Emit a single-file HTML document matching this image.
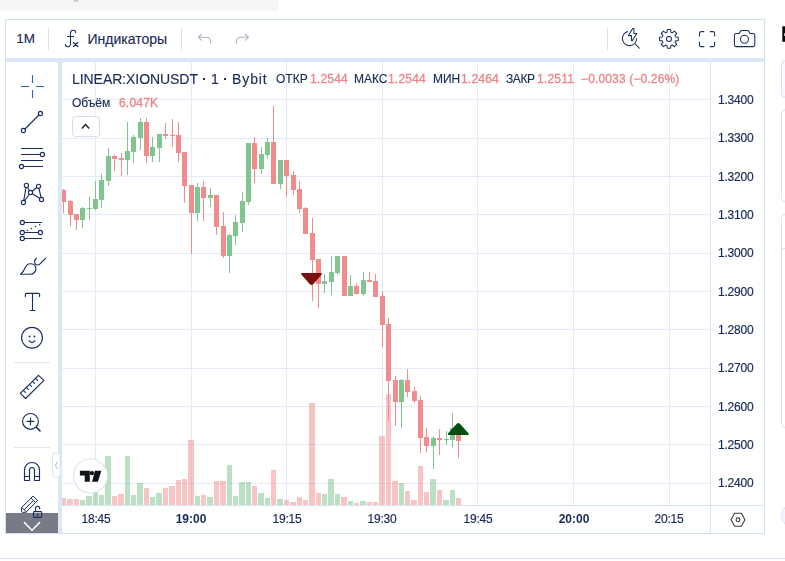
<!DOCTYPE html>
<html><head><meta charset="utf-8">
<style>
html,body{margin:0;padding:0;}
body{width:785px;height:561px;overflow:hidden;background:#fff;position:relative;font-family:"Liberation Sans",sans-serif;color:#1b2b57;}
.abs{position:absolute;}
.t{position:absolute;white-space:nowrap;line-height:1;}
#frame{left:5px;top:19px;width:760px;height:515px;background:#dbe6f8;box-shadow:inset 0 0 0 1px #d2e0f8;}
#tb{left:6px;top:20px;width:758px;height:38px;background:#fff;}
#lp{left:6px;top:62px;width:52px;height:471px;background:#fff;border-top-right-radius:3px;}
#ch{left:62px;top:62px;width:702px;height:471px;background:#fff;border-top-left-radius:3px;}
.sep{position:absolute;width:1px;background:#dfe2ec;top:28px;height:22px;}
.red{color:#f08285;}
.lg{-webkit-text-stroke-width:0.15px;}
.lg.red{-webkit-text-stroke-width:0.3px;}
.ti{-webkit-text-stroke-width:0.15px;}
.pl,.tl,.ti,.lg{will-change:transform;}
.pl,.tl{-webkit-text-stroke:0.2px #1b2b57;}
</style></head><body>
<div class="abs" style="left:0;top:0;width:278px;height:10px;background:#f5f5f5"></div><div class="abs" style="left:0;top:10px;width:278px;height:1px;background:#fafafa"></div>
<div class="abs" style="left:73px;top:0;width:6px;height:2px;background:#c9d0de;border-radius:0 0 2px 2px"></div>
<div class="abs" id="frame"></div>
<div class="abs" id="tb"></div>
<div class="abs" id="lp"></div>
<div class="abs" id="ch"></div>

<!-- chart svg -->
<svg class="abs" style="left:0;top:0" width="785" height="561" viewBox="0 0 785 561" shape-rendering="crispEdges">
<rect x="62" y="99" width="648" height="1" fill="#e3ebfa"/>
<rect x="62" y="138" width="648" height="1" fill="#e3ebfa"/>
<rect x="62" y="176" width="648" height="1" fill="#e3ebfa"/>
<rect x="62" y="214" width="648" height="1" fill="#e3ebfa"/>
<rect x="62" y="253" width="648" height="1" fill="#e3ebfa"/>
<rect x="62" y="291" width="648" height="1" fill="#e3ebfa"/>
<rect x="62" y="329" width="648" height="1" fill="#e3ebfa"/>
<rect x="62" y="368" width="648" height="1" fill="#e3ebfa"/>
<rect x="62" y="406" width="648" height="1" fill="#e3ebfa"/>
<rect x="62" y="444" width="648" height="1" fill="#e3ebfa"/>
<rect x="62" y="483" width="648" height="1" fill="#e3ebfa"/>
<rect x="95" y="62" width="1" height="443" fill="#e3ebfa"/>
<rect x="191" y="62" width="1" height="443" fill="#e3ebfa"/>
<rect x="286" y="62" width="1" height="443" fill="#e3ebfa"/>
<rect x="382" y="62" width="1" height="443" fill="#e3ebfa"/>
<rect x="477" y="62" width="1" height="443" fill="#e3ebfa"/>
<rect x="573" y="62" width="1" height="443" fill="#e3ebfa"/>
<rect x="669" y="62" width="1" height="443" fill="#e3ebfa"/>
<rect x="62" y="498" width="4" height="7" fill="#f28c8c" fill-opacity="0.5"/>
<rect x="67" y="499" width="6" height="6" fill="#f28c8c" fill-opacity="0.5"/>
<rect x="74" y="499" width="5" height="6" fill="#f28c8c" fill-opacity="0.5"/>
<rect x="80" y="500" width="5" height="5" fill="#7ac28a" fill-opacity="0.5"/>
<rect x="86" y="496" width="6" height="9" fill="#7ac28a" fill-opacity="0.5"/>
<rect x="93" y="492" width="5" height="13" fill="#7ac28a" fill-opacity="0.5"/>
<rect x="99" y="495" width="5" height="10" fill="#7ac28a" fill-opacity="0.5"/>
<rect x="105" y="456" width="6" height="49" fill="#7ac28a" fill-opacity="0.5"/>
<rect x="112" y="496" width="5" height="9" fill="#f28c8c" fill-opacity="0.5"/>
<rect x="118" y="494" width="6" height="11" fill="#f28c8c" fill-opacity="0.5"/>
<rect x="125" y="456" width="5" height="49" fill="#7ac28a" fill-opacity="0.5"/>
<rect x="131" y="495" width="5" height="10" fill="#7ac28a" fill-opacity="0.5"/>
<rect x="137" y="483" width="6" height="22" fill="#7ac28a" fill-opacity="0.5"/>
<rect x="144" y="488" width="5" height="17" fill="#f28c8c" fill-opacity="0.5"/>
<rect x="150" y="497" width="5" height="8" fill="#7ac28a" fill-opacity="0.5"/>
<rect x="156" y="493" width="6" height="12" fill="#7ac28a" fill-opacity="0.5"/>
<rect x="163" y="488" width="5" height="17" fill="#f28c8c" fill-opacity="0.5"/>
<rect x="169" y="486" width="6" height="19" fill="#f28c8c" fill-opacity="0.5"/>
<rect x="176" y="480" width="5" height="25" fill="#f28c8c" fill-opacity="0.5"/>
<rect x="182" y="479" width="5" height="26" fill="#f28c8c" fill-opacity="0.5"/>
<rect x="188" y="440" width="6" height="65" fill="#f28c8c" fill-opacity="0.5"/>
<rect x="195" y="496" width="5" height="9" fill="#7ac28a" fill-opacity="0.5"/>
<rect x="201" y="495" width="5" height="10" fill="#f28c8c" fill-opacity="0.5"/>
<rect x="207" y="497" width="6" height="8" fill="#7ac28a" fill-opacity="0.5"/>
<rect x="214" y="481" width="5" height="24" fill="#f28c8c" fill-opacity="0.5"/>
<rect x="220" y="481" width="6" height="24" fill="#f28c8c" fill-opacity="0.5"/>
<rect x="227" y="465" width="5" height="40" fill="#7ac28a" fill-opacity="0.5"/>
<rect x="233" y="496" width="5" height="9" fill="#7ac28a" fill-opacity="0.5"/>
<rect x="239" y="482" width="6" height="23" fill="#7ac28a" fill-opacity="0.5"/>
<rect x="246" y="482" width="5" height="23" fill="#7ac28a" fill-opacity="0.5"/>
<rect x="252" y="486" width="5" height="19" fill="#f28c8c" fill-opacity="0.5"/>
<rect x="258" y="493" width="6" height="12" fill="#7ac28a" fill-opacity="0.5"/>
<rect x="265" y="498" width="5" height="7" fill="#7ac28a" fill-opacity="0.5"/>
<rect x="271" y="470" width="5" height="35" fill="#f28c8c" fill-opacity="0.5"/>
<rect x="277" y="499" width="6" height="6" fill="#7ac28a" fill-opacity="0.5"/>
<rect x="284" y="500" width="5" height="5" fill="#f28c8c" fill-opacity="0.5"/>
<rect x="290" y="502" width="6" height="3" fill="#f28c8c" fill-opacity="0.5"/>
<rect x="297" y="497" width="5" height="8" fill="#f28c8c" fill-opacity="0.5"/>
<rect x="303" y="500" width="5" height="5" fill="#f28c8c" fill-opacity="0.5"/>
<rect x="309" y="403" width="6" height="102" fill="#f28c8c" fill-opacity="0.5"/>
<rect x="316" y="493" width="5" height="12" fill="#f28c8c" fill-opacity="0.5"/>
<rect x="322" y="494" width="5" height="11" fill="#7ac28a" fill-opacity="0.5"/>
<rect x="328" y="479" width="6" height="26" fill="#7ac28a" fill-opacity="0.5"/>
<rect x="335" y="494" width="5" height="11" fill="#7ac28a" fill-opacity="0.5"/>
<rect x="341" y="497" width="6" height="8" fill="#f28c8c" fill-opacity="0.5"/>
<rect x="348" y="501" width="5" height="4" fill="#7ac28a" fill-opacity="0.5"/>
<rect x="354" y="503" width="5" height="2" fill="#f28c8c" fill-opacity="0.5"/>
<rect x="360" y="501" width="6" height="4" fill="#7ac28a" fill-opacity="0.5"/>
<rect x="367" y="502" width="5" height="3" fill="#f28c8c" fill-opacity="0.5"/>
<rect x="373" y="502" width="5" height="3" fill="#f28c8c" fill-opacity="0.5"/>
<rect x="379" y="436" width="6" height="69" fill="#f28c8c" fill-opacity="0.5"/>
<rect x="386" y="394" width="5" height="111" fill="#f28c8c" fill-opacity="0.5"/>
<rect x="392" y="481" width="6" height="24" fill="#f28c8c" fill-opacity="0.5"/>
<rect x="399" y="483" width="5" height="22" fill="#7ac28a" fill-opacity="0.5"/>
<rect x="405" y="491" width="5" height="14" fill="#f28c8c" fill-opacity="0.5"/>
<rect x="411" y="500" width="6" height="5" fill="#f28c8c" fill-opacity="0.5"/>
<rect x="418" y="466" width="5" height="39" fill="#f28c8c" fill-opacity="0.5"/>
<rect x="424" y="492" width="5" height="13" fill="#f28c8c" fill-opacity="0.5"/>
<rect x="430" y="479" width="6" height="26" fill="#7ac28a" fill-opacity="0.5"/>
<rect x="437" y="490" width="5" height="15" fill="#f28c8c" fill-opacity="0.5"/>
<rect x="443" y="500" width="6" height="5" fill="#7ac28a" fill-opacity="0.5"/>
<rect x="450" y="490" width="5" height="15" fill="#7ac28a" fill-opacity="0.5"/>
<rect x="456" y="498" width="5" height="7" fill="#f28c8c" fill-opacity="0.5"/>
<rect x="63" y="189.0" width="1" height="24.0" fill="#f28c8c"/>
<rect x="62" y="190.0" width="4" height="12.0" fill="#f28c8c"/>
<rect x="70" y="200.0" width="1" height="26.0" fill="#f28c8c"/>
<rect x="68" y="201.0" width="5" height="14.0" fill="#f28c8c"/>
<rect x="76" y="214.0" width="1" height="16.0" fill="#f28c8c"/>
<rect x="74" y="214.0" width="5" height="6.0" fill="#f28c8c"/>
<rect x="82" y="207.0" width="1" height="21.0" fill="#80c590"/>
<rect x="80" y="208.0" width="5" height="12.0" fill="#80c590"/>
<rect x="89" y="197.0" width="1" height="23.0" fill="#80c590"/>
<rect x="87" y="208.0" width="5" height="1.0" fill="#80c590"/>
<rect x="95" y="181.0" width="1" height="29.0" fill="#80c590"/>
<rect x="93" y="199.0" width="5" height="10.0" fill="#80c590"/>
<rect x="101" y="174.0" width="1" height="34.0" fill="#80c590"/>
<rect x="99" y="180.0" width="5" height="20.0" fill="#80c590"/>
<rect x="108" y="148.0" width="1" height="38.0" fill="#80c590"/>
<rect x="106" y="156.0" width="5" height="25.0" fill="#80c590"/>
<rect x="114" y="155.0" width="1" height="16.0" fill="#f28c8c"/>
<rect x="112" y="156.0" width="5" height="3.0" fill="#f28c8c"/>
<rect x="121" y="153.0" width="1" height="23.0" fill="#f28c8c"/>
<rect x="119" y="158.0" width="5" height="2.0" fill="#f28c8c"/>
<rect x="127" y="122.0" width="1" height="53.0" fill="#80c590"/>
<rect x="125" y="151.0" width="5" height="9.0" fill="#80c590"/>
<rect x="133" y="135.0" width="1" height="28.0" fill="#80c590"/>
<rect x="131" y="137.0" width="5" height="15.0" fill="#80c590"/>
<rect x="140" y="118.0" width="1" height="32.0" fill="#80c590"/>
<rect x="138" y="122.0" width="5" height="16.0" fill="#80c590"/>
<rect x="146" y="118.0" width="1" height="45.0" fill="#f28c8c"/>
<rect x="144" y="122.0" width="5" height="34.0" fill="#f28c8c"/>
<rect x="152" y="137.0" width="1" height="25.0" fill="#80c590"/>
<rect x="150" y="147.0" width="5" height="9.0" fill="#80c590"/>
<rect x="159" y="134.0" width="1" height="28.0" fill="#80c590"/>
<rect x="157" y="134.0" width="5" height="14.0" fill="#80c590"/>
<rect x="165" y="123.0" width="1" height="16.0" fill="#f28c8c"/>
<rect x="163" y="134.0" width="5" height="2.0" fill="#f28c8c"/>
<rect x="172" y="119.0" width="1" height="28.0" fill="#f28c8c"/>
<rect x="170" y="134.5" width="5" height="1.5" fill="#f28c8c"/>
<rect x="178" y="122.0" width="1" height="40.0" fill="#f28c8c"/>
<rect x="176" y="135.0" width="5" height="17.5" fill="#f28c8c"/>
<rect x="184" y="152.0" width="1" height="51.0" fill="#f28c8c"/>
<rect x="182" y="152.0" width="5" height="34.0" fill="#f28c8c"/>
<rect x="191" y="185.0" width="1" height="69.0" fill="#f28c8c"/>
<rect x="189" y="185.0" width="5" height="28.0" fill="#f28c8c"/>
<rect x="197" y="183.0" width="1" height="38.0" fill="#80c590"/>
<rect x="195" y="187.0" width="5" height="26.0" fill="#80c590"/>
<rect x="203" y="181.0" width="1" height="40.0" fill="#f28c8c"/>
<rect x="201" y="187.0" width="5" height="11.0" fill="#f28c8c"/>
<rect x="210" y="188.0" width="1" height="19.0" fill="#80c590"/>
<rect x="208" y="195.0" width="5" height="3.0" fill="#80c590"/>
<rect x="216" y="195.0" width="1" height="40.0" fill="#f28c8c"/>
<rect x="214" y="195.0" width="5" height="31.5" fill="#f28c8c"/>
<rect x="223" y="212.0" width="1" height="46.0" fill="#f28c8c"/>
<rect x="221" y="226.0" width="5" height="30.0" fill="#f28c8c"/>
<rect x="229" y="234.0" width="1" height="39.0" fill="#80c590"/>
<rect x="227" y="235.0" width="5" height="21.0" fill="#80c590"/>
<rect x="235" y="215.0" width="1" height="30.0" fill="#80c590"/>
<rect x="233" y="222.0" width="5" height="14.0" fill="#80c590"/>
<rect x="242" y="192.0" width="1" height="40.0" fill="#80c590"/>
<rect x="240" y="201.0" width="5" height="21.5" fill="#80c590"/>
<rect x="248" y="143.0" width="1" height="62.0" fill="#80c590"/>
<rect x="246" y="143.0" width="5" height="59.0" fill="#80c590"/>
<rect x="254" y="137.0" width="1" height="46.0" fill="#f28c8c"/>
<rect x="252" y="143.0" width="5" height="26.0" fill="#f28c8c"/>
<rect x="261" y="147.0" width="1" height="27.0" fill="#80c590"/>
<rect x="259" y="154.0" width="5" height="15.0" fill="#80c590"/>
<rect x="267" y="138.0" width="1" height="21.0" fill="#80c590"/>
<rect x="265" y="142.0" width="5" height="13.0" fill="#80c590"/>
<rect x="273" y="106.0" width="1" height="78.0" fill="#f28c8c"/>
<rect x="271" y="142.0" width="5" height="42.0" fill="#f28c8c"/>
<rect x="280" y="160.0" width="1" height="29.0" fill="#80c590"/>
<rect x="278" y="160.0" width="5" height="24.0" fill="#80c590"/>
<rect x="286" y="160.0" width="1" height="37.0" fill="#f28c8c"/>
<rect x="284" y="160.0" width="5" height="16.0" fill="#f28c8c"/>
<rect x="293" y="171.0" width="1" height="24.0" fill="#f28c8c"/>
<rect x="291" y="175.0" width="5" height="15.0" fill="#f28c8c"/>
<rect x="299" y="181.0" width="1" height="32.0" fill="#f28c8c"/>
<rect x="297" y="189.0" width="5" height="20.0" fill="#f28c8c"/>
<rect x="305" y="207.0" width="1" height="27.0" fill="#f28c8c"/>
<rect x="303" y="208.0" width="5" height="26.0" fill="#f28c8c"/>
<rect x="312" y="218.0" width="1" height="83.0" fill="#f28c8c"/>
<rect x="310" y="233.0" width="5" height="27.0" fill="#f28c8c"/>
<rect x="318" y="259.0" width="1" height="49.0" fill="#f28c8c"/>
<rect x="316" y="259.0" width="5" height="24.5" fill="#f28c8c"/>
<rect x="324" y="274.0" width="1" height="19.0" fill="#80c590"/>
<rect x="322" y="281.0" width="5" height="3.0" fill="#80c590"/>
<rect x="331" y="256.0" width="1" height="39.0" fill="#80c590"/>
<rect x="329" y="272.0" width="5" height="10.0" fill="#80c590"/>
<rect x="337" y="256.0" width="1" height="19.0" fill="#80c590"/>
<rect x="335" y="256.0" width="5" height="16.5" fill="#80c590"/>
<rect x="344" y="256.0" width="1" height="40.0" fill="#f28c8c"/>
<rect x="342" y="256.0" width="5" height="40.0" fill="#f28c8c"/>
<rect x="350" y="275.0" width="1" height="21.0" fill="#80c590"/>
<rect x="348" y="286.0" width="5" height="10.0" fill="#80c590"/>
<rect x="356" y="283.0" width="1" height="11.0" fill="#f28c8c"/>
<rect x="354" y="286.0" width="5" height="8.0" fill="#f28c8c"/>
<rect x="363" y="272.0" width="1" height="24.0" fill="#80c590"/>
<rect x="361" y="280.0" width="5" height="14.0" fill="#80c590"/>
<rect x="369" y="272.0" width="1" height="10.0" fill="#f28c8c"/>
<rect x="367" y="280.0" width="5" height="2.0" fill="#f28c8c"/>
<rect x="375" y="274.0" width="1" height="23.0" fill="#f28c8c"/>
<rect x="373" y="281.0" width="5" height="16.0" fill="#f28c8c"/>
<rect x="382" y="291.0" width="1" height="56.0" fill="#f28c8c"/>
<rect x="380" y="296.0" width="5" height="29.0" fill="#f28c8c"/>
<rect x="388" y="318.0" width="1" height="103.0" fill="#f28c8c"/>
<rect x="386" y="324.0" width="5" height="57.0" fill="#f28c8c"/>
<rect x="395" y="376.0" width="1" height="50.0" fill="#f28c8c"/>
<rect x="393" y="380.0" width="5" height="22.0" fill="#f28c8c"/>
<rect x="401" y="379.0" width="1" height="49.0" fill="#80c590"/>
<rect x="399" y="380.0" width="5" height="22.0" fill="#80c590"/>
<rect x="407" y="369.0" width="1" height="28.0" fill="#f28c8c"/>
<rect x="405" y="380.0" width="5" height="12.0" fill="#f28c8c"/>
<rect x="414" y="387.0" width="1" height="16.0" fill="#f28c8c"/>
<rect x="412" y="391.0" width="5" height="10.0" fill="#f28c8c"/>
<rect x="420" y="396.0" width="1" height="57.0" fill="#f28c8c"/>
<rect x="418" y="400.0" width="5" height="38.0" fill="#f28c8c"/>
<rect x="426" y="428.0" width="1" height="24.0" fill="#f28c8c"/>
<rect x="424" y="437.0" width="5" height="9.0" fill="#f28c8c"/>
<rect x="433" y="436.0" width="1" height="33.0" fill="#80c590"/>
<rect x="431" y="438.0" width="5" height="8.0" fill="#80c590"/>
<rect x="439" y="429.0" width="1" height="26.0" fill="#f28c8c"/>
<rect x="437" y="438.0" width="5" height="2.0" fill="#f28c8c"/>
<rect x="446" y="431.0" width="1" height="14.0" fill="#80c590"/>
<rect x="444" y="438.5" width="5" height="1.5" fill="#80c590"/>
<rect x="452" y="413.0" width="1" height="34.0" fill="#80c590"/>
<rect x="450" y="428.0" width="5" height="12.0" fill="#80c590"/>
<rect x="458" y="428.0" width="1" height="30.0" fill="#f28c8c"/>
<rect x="456" y="428.0" width="5" height="12.5" fill="#f28c8c"/>
<rect x="710" y="62" width="1" height="471" fill="#d6e2f8"/>
<rect x="62" y="505" width="702" height="1" fill="#d6e2f8"/>
</svg>

<!-- overlay svg (antialiased icons) -->
<svg class="abs" style="left:0;top:0" width="785" height="561" viewBox="0 0 785 561" fill="none">
<!-- arrows on chart -->
<path d="M302.6 273 H320.4 Q323 273 321.3 275 L313.1 284.3 Q311.5 285.9 309.9 284.3 L301.7 275 Q300 273 302.6 273Z" fill="#7b0e0e"/>
<path d="M449.6 435.1 H467.2 Q469.9 435.1 468.2 433.1 L459.9 423.8 Q458.3 422.3 456.8 423.8 L448.4 433.1 Q446.8 435.1 449.6 435.1Z" fill="#034d0f"/>

<!-- TV logo -->
<circle cx="90.4" cy="476" r="17" fill="#fff" stroke="#e3e6ee" stroke-width="1.2"/>
<path d="M79.9 470.8 H89.8 V481.7 H84.7 V475.4 H79.9Z" fill="#12141c"/>
<circle cx="91.9" cy="473.1" r="2.2" fill="#12141c"/>
<path d="M94.9 470.8 H101.4 L97.9 481.7 H92.1Z" fill="#12141c"/>

<!-- legend collapse button -->
<rect x="72.5" y="116.5" width="27" height="20" rx="3" fill="#fff" stroke="#d9dce6"/>
<path d="M81.8 128.4 L85.5 124.6 L89.2 128.4" stroke="#20232e" stroke-width="1.5" fill="none"/>

<!-- left toolbar: crosshair -->
<g stroke="#2861d8" stroke-width="1.1">
<path d="M32.5 75 V83 M32.5 90 V98 M21 86.5 H29 M36 86.5 H44"/>
</g>
<g stroke="#1b2f5e" stroke-width="1.15" fill="none" stroke-linecap="round" stroke-linejoin="round">
<!-- trend line -->
<circle cx="23.4" cy="130.5" r="2.1"/><circle cx="40.4" cy="113.5" r="2.1"/><path d="M25 129 L38.9 115"/>
<!-- fib -->
<path d="M21 148.5 H43 M21 154.5 H40 M21 160.5 H43 M24 166.5 H43" stroke-linecap="butt"/>
<circle cx="42.4" cy="154.5" r="2.1" fill="#fff"/><circle cx="21.5" cy="166.5" r="2.1" fill="#fff"/>
<!-- xabcd -->
<path d="M26.4 185.4 L23.4 202.5 L30.5 192.5 Z M30.5 192.5 L38.5 186.3 L41.5 199.5 Z"/>
<circle cx="26.4" cy="185.4" r="2.1" fill="#fff"/><circle cx="38.5" cy="186.3" r="2.1" fill="#fff"/><circle cx="30.5" cy="192.5" r="2.1" fill="#fff"/><circle cx="23.4" cy="202.5" r="2.1" fill="#fff"/><circle cx="41.5" cy="199.5" r="2.1" fill="#fff"/>
<!-- forecast -->
<path d="M24.5 222.5 H42 M24.5 232.5 H38.3 M24.5 238.5 H42" stroke-linecap="butt"/>
<circle cx="22.3" cy="222.5" r="2.1"/><circle cx="22.3" cy="232.5" r="2.1"/><circle cx="40.4" cy="232.5" r="2.1"/><circle cx="22.3" cy="238.5" r="2.1"/>
<g fill="#1b2f5e" stroke="none"><circle cx="27.3" cy="230.3" r="0.75"/><circle cx="31.4" cy="228.5" r="0.75"/><circle cx="35.5" cy="226.6" r="0.75"/><circle cx="39.6" cy="224.8" r="0.75"/></g>
<!-- brush -->
<path d="M20.5 274.2 H30 C33.8 274.2 35.9 271.4 35.9 268.8 C35.9 265.6 33.2 263.7 30.3 263.7 C27.6 263.7 26.2 265.4 25.3 267.4 C24 270.4 22.4 272.8 20.5 274.2 Z"/>
<path d="M45.7 258.2 L40.9 263 C40 264.2 39 265 37.8 265 C35.8 265 34.6 263.4 34.6 261.8 C34.6 260.4 35.3 259.2 36.4 258.3"/>
<!-- text T -->
<path d="M25.4 296.6 V294.4 Q25.4 293.4 26.4 293.4 H38.6 Q39.6 293.4 39.6 294.4 V296.6 M32.5 293.4 V310.5 M30.2 310.5 H34.8"/>
<!-- smiley -->
<circle cx="32" cy="337.8" r="10.4"/>
<circle cx="29.5" cy="336.5" r="0.9" fill="#1b2f5e" stroke="none"/><circle cx="34.5" cy="336.5" r="0.9" fill="#1b2f5e" stroke="none"/>
<path d="M29 340.5 Q32 344.6 35 340.5"/>
<!-- ruler -->
<path d="M38.5 375.3 L43.9 380.3 L25.6 398.5 L20.3 393.3 Z"/>
<path d="M23.3 390.3 l2 2 M26.3 387.3 l2 2 M29.4 384.3 l2 2 M32.4 381.3 l2 2 M35.5 378.3 l2 2"/>
<!-- zoom -->
<circle cx="30.5" cy="421.4" r="7.9"/>
<path d="M27.1 421.4 H33.9 M30.5 418 V424.8"/><path d="M36.3 427.2 L40 430.9" stroke-width="1.5"/>
<!-- magnet -->
<path d="M24.5 480.5 V470 A7.5 7.5 0 0 1 39.5 470 V480.5 H34.5 V470 A2.5 2.5 0 0 0 29.5 470 V480.5 Z M24.5 476.5 H29.5 M34.5 476.5 H39.5" stroke-linejoin="miter"/>
<!-- pencil + lock -->
<path stroke-width="1" d="M33.3 496.3 L37.6 500.4 L26 512.3 H22.4 Q21.4 512.3 21.4 511.3 V508.2 Z M22 507.7 L26.4 511.8 M31.3 498.3 L35.6 502.4 M24.3 509.7 L33.5 500.4"/>
</g>
<!-- grey more box -->
<rect x="6" y="513" width="52" height="20" fill="#787b86"/>
<path d="M24 522.1 L32 530.2 L40 522.1" stroke="#fff" stroke-width="1.5" fill="none"/>
<g stroke="#1b2f5e" stroke-width="1.1" fill="none">
<rect x="33.5" y="511.6" width="8.2" height="5.8" rx="0.8" fill="none"/>
<path d="M35.5 511.6 V508.3 A2.1 2.1 0 0 1 39.7 508.3 V509.2" />
<path d="M37.6 513.7 V515.8" stroke-width="1.3"/>
</g>
<!-- separators left toolbar -->
<rect x="14" y="362" width="36" height="1" fill="#e2e4ee"/>
<rect x="14" y="447" width="36" height="1" fill="#e2e4ee"/>
<!-- collapse handle -->
<rect x="52.5" y="452.5" width="7.5" height="25" rx="3.7" fill="#fff" stroke="#dce6f8"/>
<path d="M57.6 461.8 L55.4 465.5 L57.6 469.2" stroke="#b5b9c6" stroke-width="1" fill="none"/>

<!-- top toolbar -->
<g stroke="#1b2f5e" stroke-width="1.05" fill="none" stroke-linecap="round">
<!-- fx -->
<path d="M75.7 32.6 C75.7 31 74.6 30.2 73.3 30.2 C71.6 30.2 70.5 31.3 70.5 33 V43.5 C70.5 45.6 69.3 46.7 67.7 46.7 C66.3 46.7 65.4 45.8 65.3 44.4 M67.4 36.4 H73.6"/>
<path d="M73.5 42.6 L77.8 46.6 M77.8 42.6 L73.5 46.6" stroke-width="1.3"/>
</g>
<g stroke="#aeb3c6" stroke-width="1.05" fill="none">
<path d="M201.9 34 L198.4 37.3 L201.9 40.7 M198.4 37.3 H206 C208.8 37.3 210.6 39.3 210.6 42 V43.7"/>
<path d="M245 34 L248.5 37.3 L245 40.7 M248.5 37.3 H241 C238.2 37.3 236.4 39.3 236.4 42 V43.7"/>
</g>
<g stroke="#1b2f5e" stroke-width="1.05" fill="none" stroke-linejoin="round">
<!-- quick search -->
<path d="M628 31.6 A7.1 7.1 0 1 0 636.6 38.3"/>
<path d="M632.7 28.4 H633.9 V33.5 H636.8 L632.3 40.6 H631.5 V35.6 H628.4 Z"/>
<path d="M634.9 43.6 L639.7 48.5"/>
<!-- gear -->
<path d="M666.97 32.29 L667.35 29.54 L670.55 29.54 L670.93 32.29 L672.23 32.83 L674.44 31.15 L676.70 33.41 L675.02 35.62 L675.56 36.92 L678.31 37.30 L678.31 40.50 L675.56 40.88 L675.02 42.18 L676.70 44.39 L674.44 46.65 L672.23 44.97 L670.93 45.51 L670.55 48.26 L667.35 48.26 L666.97 45.51 L665.67 44.97 L663.46 46.65 L661.20 44.39 L662.88 42.18 L662.34 40.88 L659.59 40.50 L659.59 37.30 L662.34 36.92 L662.88 35.62 L661.20 33.41 L663.46 31.15 L665.67 32.83Z"/>
<circle cx="668.95" cy="38.9" r="2.5"/>
<!-- fullscreen -->
<path d="M699.5 36.5 V33.2 Q699.5 31.6 701.1 31.6 H704.3 M709.9 31.6 H713 Q714.6 31.6 714.6 33.2 V36.5 M714.6 41.8 V45 Q714.6 46.6 713 46.6 H709.9 M704.3 46.6 H701.1 Q699.5 46.6 699.5 45 V41.8"/>
<!-- camera -->
<path d="M735.9 33.5 H739.2 L740.3 31.4 Q740.8 30.5 741.8 30.5 H747.4 Q748.4 30.5 748.9 31.4 L750 33.5 H753.2 Q754.8 33.5 754.8 35.1 V45 Q754.8 46.6 753.2 46.6 H735.9 Q734.4 46.6 734.4 45 V35.1 Q734.4 33.5 735.9 33.5Z"/>
<circle cx="744.5" cy="39.3" r="4"/>
</g>

<!-- hex settings bottom right -->
<path d="M734.6 513.3 H741.4 L744.9 519.8 L741.4 526.3 H734.6 L731.1 519.8 Z" stroke="#3a3d48" stroke-width="1.1" fill="none"/>
<circle cx="738" cy="519.8" r="1.9" stroke="#3a3d48" stroke-width="1.1" fill="none"/>

<!-- right partial panels -->
<g stroke="#d3e0f7" stroke-width="1" fill="#f8fafe">
<rect x="781.5" y="60.5" width="20" height="37" rx="4"/>
<rect x="781.5" y="109.5" width="20" height="92" rx="4" fill="#fff"/>
<rect x="781.5" y="214.5" width="20" height="213" rx="4" fill="#fff"/>
<path d="M781.5 248.5 H790"/>
<circle cx="793.5" cy="515.7" r="12" fill="#f3f6fc"/>
</g>
<rect x="782.3" y="26.3" width="4" height="15.5" fill="#0a0a0a"/><rect x="784" y="33.2" width="1" height="2.8" fill="#bbb"/>
<rect x="0" y="558" width="785" height="1" fill="#dbe5f7"/>

</svg>

<!-- top toolbar text -->
<div class="t" id="t1m" style="left:16.2px;top:32.1px;font-size:13.5px;-webkit-text-stroke-width:0.15px;">1М</div>
<div class="sep" style="left:48px"></div>
<div class="t" id="tind" style="left:87.5px;top:31.5px;font-size:14px;-webkit-text-stroke-width:0.15px;">Индикаторы</div>
<div class="sep" style="left:181px"></div>
<div class="sep" style="left:607px"></div>

<!-- legend -->
<div class="t ti" id="ttitle" style="left:71.7px;top:72px;font-size:14px;letter-spacing:-0.06px;">LINEAR:XIONUSDT</div>
<div class="abs" style="left:203.4px;top:78.2px;width:2px;height:2px;background:#1b2b57"></div>
<div class="t ti" id="ttitle2" style="left:210.5px;top:72px;font-size:14px;">1</div>
<div class="abs" style="left:224px;top:78.2px;width:2px;height:2px;background:#1b2b57"></div>
<div class="t ti" id="ttitle3" style="left:231.5px;top:72px;font-size:14px;letter-spacing:0.9px;">Bybit</div>
<div class="t lg" id="to1" style="left:276px;top:73px;font-size:12px;">ОТКР</div>
<div class="t lg red" id="to2" style="left:309.5px;top:73px;font-size:12px;letter-spacing:0.2px;">1.2544</div>
<div class="t lg" id="th1" style="left:353.5px;top:73px;font-size:12px;">МАКС</div>
<div class="t lg red" id="th2" style="left:388px;top:73px;font-size:12px;letter-spacing:0.2px;">1.2544</div>
<div class="t lg" id="tl1" style="left:432.5px;top:73px;font-size:12px;">МИН</div>
<div class="t lg red" id="tl2" style="left:461px;top:73px;font-size:12px;letter-spacing:0.2px;">1.2464</div>
<div class="t lg" id="tc1" style="left:506px;top:73px;font-size:12px;letter-spacing:-0.4px;">ЗАКР</div>
<div class="t lg red" id="tc2" style="left:536.5px;top:73px;font-size:12px;letter-spacing:0.2px;">1.2511</div>
<div class="t lg red" id="tchg" style="left:581px;top:73px;font-size:12px;letter-spacing:0.15px;">−0.0033 (−0.26%)</div>
<div class="t lg" id="tvol1" style="left:71.5px;top:96.5px;font-size:12px;">Объём</div>
<div class="t lg red" id="tvol2" style="left:119px;top:96.5px;font-size:12px;letter-spacing:0.2px;">6.047K</div>

<!-- price axis -->
<div class="t pl" style="left:718.3px;top:93.5px;font-size:12px;letter-spacing:-0.2px;">1.3400</div>
<div class="t pl" style="left:718.3px;top:132.2px;font-size:12px;letter-spacing:-0.2px;">1.3300</div>
<div class="t pl" style="left:718.3px;top:170.6px;font-size:12px;letter-spacing:-0.2px;">1.3200</div>
<div class="t pl" style="left:718.3px;top:208.9px;font-size:12px;letter-spacing:-0.2px;">1.3100</div>
<div class="t pl" style="left:718.3px;top:247.2px;font-size:12px;letter-spacing:-0.2px;">1.3000</div>
<div class="t pl" style="left:718.3px;top:285.6px;font-size:12px;letter-spacing:-0.2px;">1.2900</div>
<div class="t pl" style="left:718.3px;top:323.9px;font-size:12px;letter-spacing:-0.2px;">1.2800</div>
<div class="t pl" style="left:718.3px;top:362.2px;font-size:12px;letter-spacing:-0.2px;">1.2700</div>
<div class="t pl" style="left:718.3px;top:400.5px;font-size:12px;letter-spacing:-0.2px;">1.2600</div>
<div class="t pl" style="left:718.3px;top:438.9px;font-size:12px;letter-spacing:-0.2px;">1.2500</div>
<div class="t pl" style="left:718.3px;top:477.2px;font-size:12px;letter-spacing:-0.2px;">1.2400</div>
<!-- time axis -->
<div class="t tl" style="left:65.5px;width:60px;text-align:center;top:512.5px;font-size:12px;letter-spacing:-0.25px;">18:45</div>
<div class="t tl" style="left:161.2px;width:60px;text-align:center;top:512.5px;font-size:12px;font-weight:bold;-webkit-text-stroke-width:0;">19:00</div>
<div class="t tl" style="left:256.7px;width:60px;text-align:center;top:512.5px;font-size:12px;letter-spacing:-0.25px;">19:15</div>
<div class="t tl" style="left:352.3px;width:60px;text-align:center;top:512.5px;font-size:12px;letter-spacing:-0.25px;">19:30</div>
<div class="t tl" style="left:447.8px;width:60px;text-align:center;top:512.5px;font-size:12px;letter-spacing:-0.25px;">19:45</div>
<div class="t tl" style="left:543.5px;width:60px;text-align:center;top:512.5px;font-size:12px;font-weight:bold;-webkit-text-stroke-width:0;">20:00</div>
<div class="t tl" style="left:639.0px;width:60px;text-align:center;top:512.5px;font-size:12px;letter-spacing:-0.25px;">20:15</div>


</body></html>
